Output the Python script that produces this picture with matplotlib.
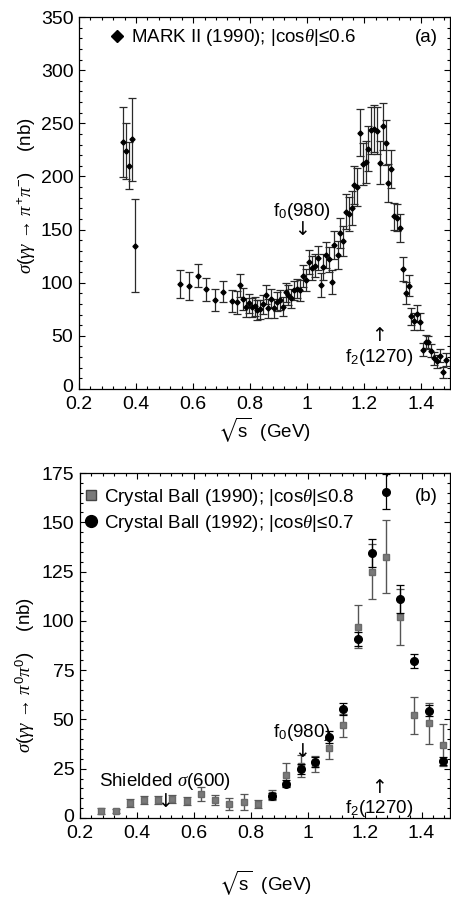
import matplotlib
matplotlib.use("Agg")
import matplotlib.pyplot as plt
import matplotlib.transforms as mtrans
from matplotlib.lines import Line2D
from matplotlib.ticker import MultipleLocator, FuncFormatter

plt.rcParams['font.family'] = ['Liberation Sans', 'DejaVu Sans']
plt.rcParams['mathtext.fontset'] = 'custom'
plt.rcParams['mathtext.rm'] = 'Liberation Sans'
plt.rcParams['mathtext.sf'] = 'Liberation Sans'
plt.rcParams['mathtext.it'] = 'Liberation Serif:italic'
plt.rcParams['mathtext.fallback'] = 'stix'

# ---------------- data: panel (a) MARK II pi+pi- ----------------
mk_x = [0.355, 0.366, 0.375, 0.385, 0.396,
        0.555, 0.585, 0.616, 0.645, 0.675, 0.704, 0.735, 0.754, 0.765, 0.774,
        0.784, 0.795, 0.805, 0.815, 0.825, 0.835, 0.845, 0.854, 0.864, 0.874,
        0.884, 0.895, 0.904, 0.914, 0.925, 0.934, 0.944, 0.955, 0.964, 0.975,
        0.985, 0.994, 1.006, 1.016, 1.026, 1.036, 1.047, 1.056, 1.066, 1.076,
        1.086, 1.095, 1.106, 1.115, 1.126, 1.135, 1.145, 1.156, 1.164, 1.174,
        1.184, 1.194, 1.204, 1.214, 1.224, 1.234, 1.244, 1.254, 1.264, 1.274,
        1.284, 1.295, 1.304, 1.314, 1.324, 1.334, 1.345, 1.355, 1.365, 1.375,
        1.385, 1.395, 1.405, 1.415, 1.424, 1.435, 1.445, 1.455, 1.464, 1.475,
        1.486]
mk_y = [232, 224, 210, 235, 135,
        98.5, 97.2, 106.6, 93.8, 83.7, 91.5, 82.8, 81.5, 97.5, 84.7,
        76.8, 80.6, 76.8, 78.0, 74.3, 75.0, 79.7, 88.7, 75.9, 85.0,
        75.9, 82.0, 83.7, 77.4, 91.2, 88.4, 85.3, 93.0, 94.4, 93.0,
        106.3, 102.5, 119.4, 114.0, 116.0, 123.4, 98.0, 114.7, 126.0, 122.0,
        100.6, 135.3, 126.0, 146.9, 139.0, 167.0, 165.0, 170.6, 192.0, 190.0,
        241.0, 211.7, 213.4, 226.0, 243.5, 245.0, 243.0, 213.0, 247.0, 231.7,
        194.0, 207.0, 162.3, 161.3, 151.3, 112.8, 90.3, 97.2, 68.4, 63.6,
        70.8, 63.4, 37.0, 44.6, 44.0, 36.0, 28.8, 26.0, 31.5, 15.8,
        27.6]
mk_err = [33, 26, 22, 39, 44,
          13, 13, 11, 11, 10, 10, 10, 11, 11, 10,
          9, 9, 9, 9, 9, 9, 9, 9, 9, 9,
          9, 9, 9, 9, 9, 9, 9, 9, 9, 10,
          10, 10, 11, 11, 11, 11, 11, 12, 12, 12,
          11, 13, 13, 14, 14, 16, 16, 16, 18, 18,
          22, 20, 20, 21, 22, 22, 22, 20, 22, 21,
          18, 18, 13, 13, 13, 11, 10, 10, 8, 8,
          8, 8, 6, 6, 6, 6, 6, 6, 6, 5,
          6]

# ---------------- data: panel (b) Crystal Ball pi0pi0 ----------------
cb90_x = [0.275, 0.325, 0.375, 0.425, 0.475, 0.525, 0.575, 0.625, 0.675,
          0.725, 0.775, 0.825, 0.875, 0.925, 0.975, 1.025, 1.075, 1.125,
          1.175, 1.225, 1.275, 1.325, 1.375, 1.425, 1.475]
cb90_y = [3.5, 3.5, 7.5, 9.0, 9.0, 9.5, 8.5, 12.0, 9.0,
          7.0, 8.0, 7.0, 11.5, 22.0, 26.5, 27.5, 35.5, 47.0,
          97.0, 125.0, 132.5, 102.0, 52.0, 48.0, 37.0]
cb90_err = [1.5, 1.2, 2.0, 2.0, 2.0, 2.0, 2.0, 3.5, 2.5,
            3.0, 4.0, 2.0, 2.5, 6.0, 5.5, 4.0, 5.5, 6.0,
            11.0, 14.0, 18.5, 14.0, 9.5, 10.5, 10.5]

cb92_x = [0.875, 0.925, 0.975, 1.025, 1.075, 1.125, 1.175, 1.225, 1.275,
          1.325, 1.375, 1.425, 1.475]
cb92_y = [11.0, 17.5, 25.0, 28.5, 41.0, 55.5, 91.0, 134.5, 165.5,
          111.0, 79.5, 54.5, 29.0]
cb92_err = [1.5, 2.0, 2.5, 2.5, 3.0, 3.0, 3.5, 7.0, 9.0,
            7.0, 3.5, 3.0, 2.0]

xticks = [0.2, 0.4, 0.6, 0.8, 1.0, 1.2, 1.4]

FS = 13.5
TFS = 14
fig = plt.figure(figsize=(4.51, 8.99), dpi=100)
axA = fig.add_axes([79/451, 1 - 389/899, 371/451, 372/899])
axB = fig.add_axes([80/451, 1 - 818/899, 370/451, 345/899])

def xfmt(v, pos):
    if abs(v - 1.0) < 1e-9:
        return '1'
    return f'{v:.1f}'

for ax in (axA, axB):
    ax.set_xlim(0.2, 1.5)
    ax.set_xticks(xticks)
    ax.xaxis.set_major_formatter(FuncFormatter(xfmt))
    ax.xaxis.set_minor_locator(MultipleLocator(0.04))
    ax.tick_params(which='both', direction='in', top=True, right=True,
                   labelsize=TFS, width=0.8)
    ax.tick_params(which='major', length=4.5)
    ax.tick_params(axis='x', which='major', pad=5)
    ax.tick_params(axis='y', which='major', pad=4)
    ax.tick_params(which='minor', length=2.2)
    for s in ax.spines.values():
        s.set_linewidth(0.9)
    ax.set_xlabel(r'$\sqrt{\mathrm{s}}$  (GeV)', fontsize=FS)

axA.xaxis.set_label_coords(0.5, -0.07)
axB.xaxis.set_label_coords(0.5, -0.146)

YLAB = r'$\sigma(\gamma\gamma\,\rightarrow\,\pi^{%s}\pi^{%s})$    (nb)'

# ---- panel (a)
axA.set_ylim(0, 350)
axA.yaxis.set_major_locator(MultipleLocator(50))
axA.yaxis.set_minor_locator(MultipleLocator(10))
axA.errorbar(mk_x, mk_y, yerr=mk_err, fmt='D', ms=2.6, color='black',
             ecolor='#2a2a2a', elinewidth=0.9, capsize=2.8, capthick=0.9)
axA.set_ylabel(YLAB % ('+', '-'), fontsize=FS)
axA.yaxis.set_label_coords(-0.112, 0.52)
hA = [Line2D([], [], marker='D', ls='none', color='black', ms=6.5)]
axA.legend(hA, ['MARK II (1990); |cos$\\theta$|≤0.6'], loc='center left',
           bbox_to_anchor=(0.086, 0.944), frameon=False, fontsize=FS,
           handlelength=0.7, handletextpad=0.35, borderpad=0,
           borderaxespad=0)
axA.text(0.935, 0.944, '(a)', transform=axA.transAxes, fontsize=FS,
         ha='center', va='center')
axA.text(0.98, 167, r'f$_0$(980)', fontsize=FS, ha='center', va='center')
axA.text(0.98, 150, '↓', fontsize=FS, ha='center', va='center',
         family=['DejaVu Sans'])
axA.text(1.25, 50, '↑', fontsize=FS, ha='center', va='center',
         family=['DejaVu Sans'])
axA.text(1.25, 30, r'f$_2$(1270)', fontsize=FS, ha='center', va='center')

# ---- panel (b)
axB.set_ylim(0, 175)
axB.yaxis.set_major_locator(MultipleLocator(25))
axB.yaxis.set_minor_locator(MultipleLocator(5))
axB.errorbar(cb90_x, cb90_y, yerr=cb90_err, fmt='s', ms=4.2,
             color='#7a7a7a', mec='#6a6a6a', ecolor='#555555',
             elinewidth=1.0, capsize=2.8, capthick=0.9, zorder=3)
axB.errorbar(cb92_x, cb92_y, yerr=cb92_err, fmt='o', ms=5.5,
             color='black', ecolor='black', elinewidth=0.9, capsize=2.8,
             capthick=0.9, zorder=4)
axB.set_ylabel(YLAB % ('0', '0'), fontsize=FS)
axB.yaxis.set_label_coords(-0.116, 0.415)
hB = [Line2D([], [], marker='s', ls='none', color='#7a7a7a', mec='#444444',
             ms=7.5),
      Line2D([], [], marker='o', ls='none', color='black', ms=8.5)]
axB.legend(hB, ['Crystal Ball (1990); |cos$\\theta$|≤0.8',
                'Crystal Ball (1992); |cos$\\theta$|≤0.7'],
           loc='upper left', bbox_to_anchor=(0.011, 0.96), frameon=False,
           fontsize=FS, handlelength=0.7, handletextpad=0.35,
           borderpad=0, borderaxespad=0, labelspacing=0.28)
axB.text(0.935, 0.933, '(b)', transform=axB.transAxes, fontsize=FS,
         ha='center', va='center')
axB.text(0.5, 18.5, r'Shielded $\sigma$(600)', fontsize=FS, ha='center',
         va='center')
axB.text(0.5, 8.5, '↓', fontsize=FS, ha='center', va='center',
         family=['DejaVu Sans'])
axB.text(0.98, 43.5, r'f$_0$(980)', fontsize=FS, ha='center', va='center')
axB.text(0.98, 33.5, '↓', fontsize=FS, ha='center', va='center',
         family=['DejaVu Sans'])
axB.text(1.25, 15.5, '↑', fontsize=FS, ha='center', va='center',
         family=['DejaVu Sans'])
axB.text(1.25, 5, r'f$_2$(1270)', fontsize=FS, ha='center', va='center')

# nudge the "0" y tick label up slightly so it clears the "0.2" label
fig.canvas.draw()
shift = mtrans.ScaledTranslation(0, 3 / 100, fig.dpi_scale_trans)
for ax in (axA, axB):
    for t in ax.yaxis.get_major_ticks():
        if abs(t.get_loc()) < 1e-9:
            t.label1.set_transform(t.label1.get_transform() + shift)

fig.savefig('out.png', dpi=100)
